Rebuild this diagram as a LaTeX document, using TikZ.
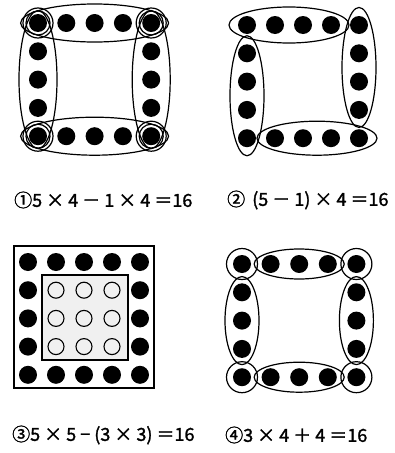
\documentclass[tikz,border=0pt]{standalone}
\usepackage{fontspec}
\usetikzlibrary{calc}
\newfontfamily\jpfont[FakeBold=1.5]{Noto Sans CJK JP}

\begin{document}
\begin{tikzpicture}[
	x=1pt, y=-1pt,
	dot/.style={ circle, fill, inner sep=0pt, minimum size=18pt },
	odot/.style={ circle, draw, line width=1.1pt, inner sep=0pt, minimum size=16pt },
	ring/.style={ line width=1.2pt },
	formula/.style={ font=\jpfont\fontsize{18}{18}\selectfont, inner sep=0pt, anchor=west }
]
\useasboundingbox (0,0) rectangle (395,453);

% hollow squares of 16 dots
\foreach \p/\ox/\oy/\st in {a/38/23/28.3, b/247/25/28, d/242/264/28.6} {
	\begin{scope}[shift={(\ox,\oy)}]
		\foreach \i in {0,...,4} {
			\node (\p\i0) at (\i*\st,0) [dot] {};
			\node (\p\i4) at (\i*\st,4*28.3) [dot] {};
		}
		\foreach \j in {1,2,3} {
			\node (\p0\j) at (0,\j*28.3) [dot] {};
			\node (\p4\j) at (4*\st,\j*28.3) [dot] {};
		}
	\end{scope}
}

% 1: four rows of 5, corners counted twice
\draw[ring] (a20) ellipse [x radius=74, y radius=19];
\draw[ring] (a24) ellipse [x radius=74, y radius=19];
\draw[ring] (a02) ellipse [x radius=19, y radius=69];
\draw[ring] (a42) ellipse [x radius=19, y radius=69];
\foreach \c in {a00,a40,a04,a44} {
	\draw[ring] (\c) circle [radius=15];
	\draw[ring] (\c) circle [radius=12];
}

% 2: four groups of 4
\draw[ring] ($(b10)!.5!(b20)$) ellipse [x radius=60, y radius=18];
\draw[ring] ($(b41)!.5!(b42)$) ellipse [x radius=17, y radius=60];
\draw[ring] ($(b24)!.5!(b34)$) ellipse [x radius=60, y radius=17];
\draw[ring] ($(b02)!.5!(b03)$) ellipse [x radius=17, y radius=60];

% 4: four groups of 3 plus corners
\draw[ring] (d20) ellipse [x radius=45, y radius=15];
\draw[ring] (d24) ellipse [x radius=45, y radius=15];
\draw[ring] (d02) ellipse [x radius=17, y radius=44];
\draw[ring] (d42) ellipse [x radius=17, y radius=44];
\foreach \c in {d00,d40,d04,d44} \draw[ring] (\c) circle [radius=15.5];

% 3: 5x5 square minus 3x3 inside
\draw[ring] (14,246) rectangle (154,388);
\draw[ring, fill=gray!12] (42,275) rectangle (128,360);
\begin{scope}[shift={(28,262)}]
	\foreach \i in {0,...,4} {
		\node (c\i0) at (\i*28,0) [dot] {};
		\node (c\i4) at (\i*28,4*28.2) [dot] {};
	}
	\foreach \j in {1,2,3} {
		\node (c0\j) at (0,\j*28.2) [dot] {};
		\node (c4\j) at (4*28,\j*28.2) [dot] {};
		\foreach \i in {1,2,3}
			\node (c\i\j) at (\i*28,\j*28.2) [odot] {};
	}
\end{scope}

% formulas
\node (f1) at (14,200) [formula] {①5 × 4 － 1 × 4 ＝16};
\node (f2) at (227,200) [formula] {②\, (5 － 1) × 4 ＝16};
\node (f3) at (12,435) [formula] {③5 × 5 − (3 × 3) ＝16};
\node (f4) at (225,435) [formula] {④3 × 4 ＋ 4 ＝16};

\end{tikzpicture}
\end{document}
